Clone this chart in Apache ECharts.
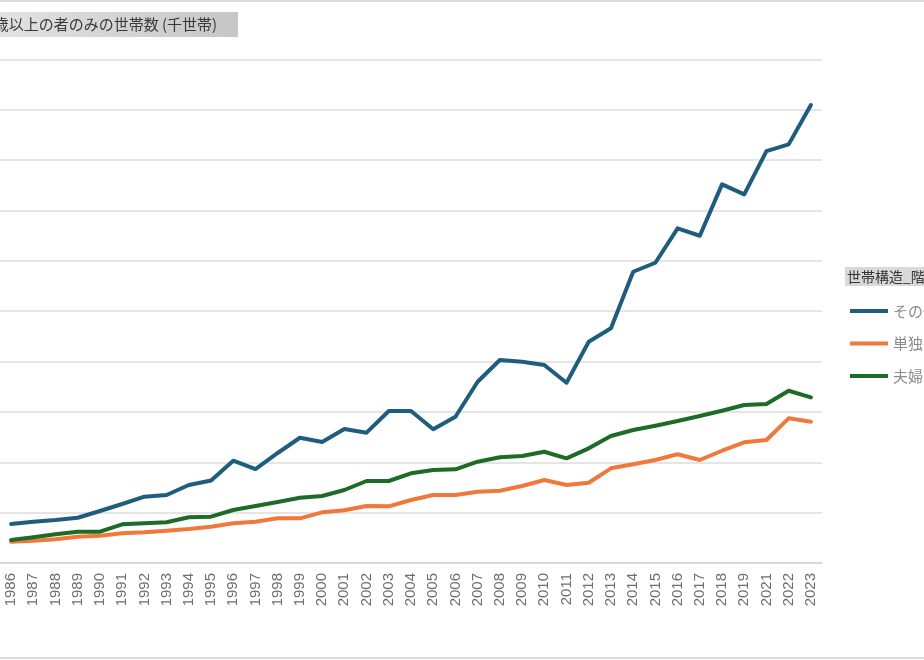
<!DOCTYPE html>
<html>
<head>
<meta charset="utf-8">
<script src="https://cdn.jsdelivr.net/npm/echarts@6/dist/echarts.min.js"></script>
<style>
  html, body { margin: 0; padding: 0; background: #fff; }
  #chart { width: 924px; height: 660px; }
</style>
</head>
<body>
<div id="chart"></div>
<script>
// years (2020 is missing in the source survey)
let years = ['1986', '1987', '1988', '1989', '1990', '1991', '1992', '1993', '1994', '1995',
    '1996', '1997', '1998', '1999', '2000', '2001', '2002', '2003', '2004', '2005',
    '2006', '2007', '2008', '2009', '2010', '2011', '2012', '2013', '2014', '2015',
    '2016', '2017', '2018', '2019', '2021', '2022', '2023'];

let seriesNames = ['その他の世帯', '単独世帯', '夫婦のみの世帯'];

// thousand households
let otherVals = [774, 820, 854, 899, 1032, 1171, 1316, 1350, 1548, 1638,
    2031, 1866, 2184, 2487, 2402, 2660, 2587, 3017, 3017, 2654,
    2904, 3599, 4030, 3996, 3930, 3579, 4393, 4659, 5782, 5961,
    6644, 6497, 7517, 7319, 8178, 8311, 9091];
let singleVals = [423, 443, 470, 522, 542, 590, 609, 641, 675, 721,
    788, 820, 887, 887, 1006, 1046, 1131, 1125, 1251, 1350,
    1350, 1415, 1435, 1528, 1648, 1548, 1594, 1880, 1959, 2045,
    2158, 2045, 2229, 2396, 2442, 2872, 2805];
let coupleVals = [457, 510, 570, 621, 621, 768, 788, 808, 907, 919,
    1052, 1131, 1211, 1296, 1330, 1449, 1628, 1628, 1781, 1846,
    1860, 2011, 2098, 2124, 2209, 2078, 2277, 2521, 2640, 2725,
    2819, 2918, 3023, 3136, 3156, 3420, 3289];

let colors = ['#1f5d7f', '#f0783a', '#1c6b27'];

let chart = echarts.init(document.getElementById('chart'), null, {renderer: 'canvas'});

function lineSeries(name, data, color) {
    return {
        name: name,
        type: 'line',
        data: data,
        symbol: 'none',
        smooth: false,
        lineStyle: { width: 4, color: color, cap: 'round', join: 'round' },
        itemStyle: { color: color }
    };
}

let option = {
    animation: false,
    textStyle: { fontFamily: '"Noto Sans CJK JP", "Noto Sans", sans-serif' },
    grid: { left: -4, right: 102, top: 59.3, bottom: 97 },
    legend: {
        orient: 'vertical',
        left: 850,
        top: 302,
        padding: 0,
        icon: 'rect',
        itemWidth: 38,
        itemHeight: 4,
        itemGap: 14.5,
        data: seriesNames,
        textStyle: { color: '#8c8c8c', fontSize: 15, lineHeight: 18 }
    },
    xAxis: {
        type: 'category',
        data: years,
        boundaryGap: true,
        axisLine: { lineStyle: { color: '#d4d4d4', width: 1.5 } },
        axisTick: { show: false },
        axisLabel: {
            rotate: 90,
            interval: 0,
            margin: 10,
            color: '#6e6e6e',
            fontSize: 15,
            fontFamily: '"Liberation Sans", Arial, sans-serif'
        }
    },
    yAxis: {
        type: 'value',
        min: 0,
        max: 10000,
        interval: 1000,
        axisLine: { show: false },
        axisTick: { show: false },
        axisLabel: { show: false },
        splitLine: { lineStyle: { color: '#dddddd', width: 1.5 } }
    },
    graphic: [
        // frame lines
        { type: 'line', shape: { x1: 0, y1: 1, x2: 924, y2: 1 }, style: { stroke: '#dcdcdc', lineWidth: 2 } },
        { type: 'line', shape: { x1: 0, y1: 658, x2: 924, y2: 658 }, style: { stroke: '#dcdcdc', lineWidth: 2 } },
        // title box
        {
            type: 'rect',
            shape: { x: 0, y: 12, width: 238, height: 25 },
            style: {
                fill: new echarts.graphic.LinearGradient(0, 0, 1, 0, [
                    { offset: 0, color: '#e2e2e2' },
                    { offset: 1, color: '#c6c6c6' }
                ])
            }
        },
        {
            type: 'text',
            x: -23,
            y: 24.5,
            style: {
                text: '65歳以上の者のみの世帯数 (千世帯)',
                fill: '#3a3a3a',
                fontSize: 15,
                fontFamily: '"Noto Sans CJK JP", sans-serif',
                verticalAlign: 'middle'
            }
        },
        // legend title box
        {
            type: 'rect',
            shape: { x: 845, y: 267, width: 90, height: 19 },
            style: { fill: '#d9d9d9' }
        },
        {
            type: 'text',
            x: 847,
            y: 276.5,
            style: {
                text: '世帯構造_階層',
                fill: '#333333',
                fontSize: 14,
                fontFamily: '"Noto Sans CJK JP", sans-serif',
                verticalAlign: 'middle'
            }
        }
    ],
    series: [
        lineSeries(seriesNames[0], otherVals, colors[0]),
        lineSeries(seriesNames[1], singleVals, colors[1]),
        lineSeries(seriesNames[2], coupleVals, colors[2])
    ]
};

chart.setOption(option);
</script>
</body>
</html>
